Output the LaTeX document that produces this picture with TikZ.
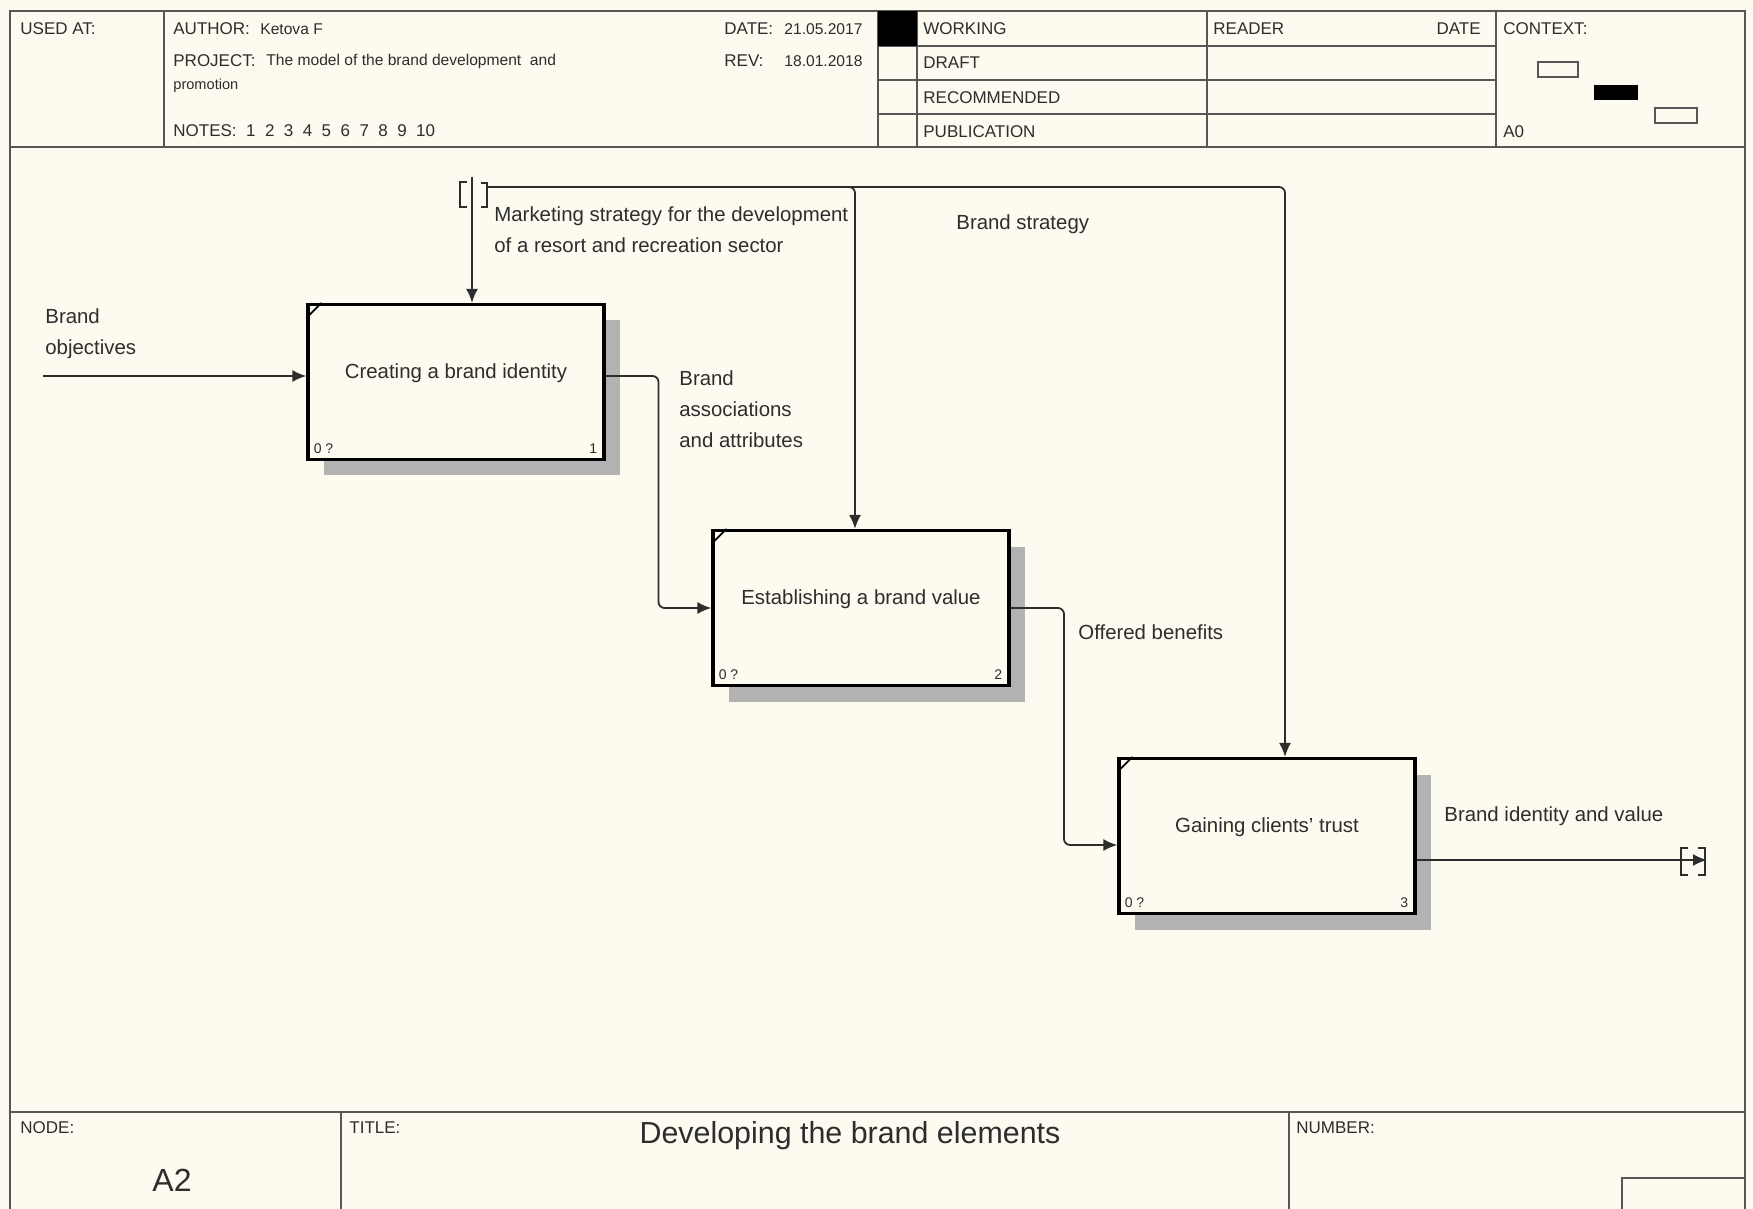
\documentclass[tikz,border=0pt]{standalone}
\usepackage{fontspec}
\setmainfont{Liberation Sans}
\usetikzlibrary{arrows.meta,calc,shadows}
\definecolor{paper}{RGB}{253,250,240}
\definecolor{ink}{RGB}{45,45,45}
\tikzset{
  frame/.style={draw=ink!80,line width=1.1pt},
  actbox/.style={draw=black,line width=1.6pt,fill=paper,minimum width=148pt,minimum height=77.5pt,inner sep=0pt,
    drop shadow={shadow xshift=8pt,shadow yshift=-8pt,fill=gray!60,opacity=1}},
  flow/.style={draw=ink,line width=0.9pt,rounded corners=3pt,-{Latex[length=7pt,width=6pt]}},
  lbl/.style={font=\fontsize{10.2}{15.5}\selectfont,text=ink,inner sep=0pt,anchor=west,align=left},
  boxtxt/.style={font=\fontsize{10.2}{12}\selectfont,text=ink,inner sep=0pt},
  hdr/.style={font=\fontsize{8.5}{10}\selectfont,text=ink,inner sep=0pt,anchor=west},
  hval/.style={font=\fontsize{7.8}{9}\selectfont,text=ink,inner sep=0pt,anchor=west},
  tiny/.style={font=\fontsize{7}{8}\selectfont,text=ink,inner sep=0pt}
}
\begin{document}
\begin{tikzpicture}[x=0.5pt,y=-0.5pt]
\useasboundingbox (0,0) rectangle (1753,1209);
\fill[paper] (0,0) rectangle (1753,1209);
\draw[frame] (10,1209) -- (10,11) -- (1745,11) -- (1745,1209);
\draw[frame] (10,147) -- (1745,147)
    (164,11) -- (164,147)
    (878,11) -- (878,147)
    (917,11) -- (917,147)
    (1207,11) -- (1207,147)
    (1496,11) -- (1496,147);
\foreach \y in {46,80,114}
    \draw[frame] (878,\y) -- (1496,\y);
\fill[black] (878,11) rectangle (917,46);
\draw[frame] (1538,62) rectangle (1578,77)
    (1655,108) rectangle (1697,123);
\fill[black] (1594,85) rectangle (1638,100);
\node[hdr] (usedat) at (20,29) {USED AT:};
\node[hdr] (author) at (173,29) {AUTHOR:};
\node[hval] (authorv) at (260,29) {Ketova F};
\node[hdr] (project) at (173,61) {PROJECT:};
\node[hval] (projectv) at (266,61) {The model of the brand development\ \ and};
\node[hval] (projectw) at (173,86) {\fontsize{7.3}{9}\selectfont promotion};
\node[hdr] (notes) at (173,131) {NOTES:~~1~~2~~3~~4~~5~~6~~7~~8~~9~~10};
\node[hdr] (date) at (724,29) {DATE:};
\node[hval] (datev) at (784,29) {21.05.2017};
\node[hdr] (rev) at (724,61) {REV:};
\node[hval] (revv) at (784,61) {18.01.2018};
\node[hdr] (working) at (923,29) {WORKING};
\node[hdr] (draft) at (923,63) {DRAFT};
\node[hdr] (recomm) at (923,98) {RECOMMENDED};
\node[hdr] (public) at (923,132) {PUBLICATION};
\node[hdr] (reader) at (1213,29) {READER};
\node[hdr,anchor=east] (rdate) at (1481,29) {DATE};
\node[hdr] (context) at (1503,29) {CONTEXT:};
\node[hdr] (ctxnode) at (1503,132) {A0};
\node[actbox] (a1) at (456,382) {};
\node[actbox] (a2) at (861,608) {};
\node[actbox] (a3) at (1267,836) {};
\node[boxtxt] (t1) at ($(a1.north)+(0,70)$) {Creating a brand identity};
\node[boxtxt] (t2) at ($(a2.north)+(0,70)$) {Establishing a brand value};
\node[boxtxt] (t3) at ($(a3.north)+(0,70)$) {Gaining clients' trust};
\foreach \b/\n in {a1/1,a2/2,a3/3} {
    \draw[line width=0.9pt] ($(\b.north west)+(0,15)$) -- ($(\b.north west)+(15,0)$);
    \node[tiny,anchor=south west] (\b-cost) at ($(\b.south west)+(7,-7)$) {0 ?};
    \node[tiny,anchor=south east] (\b-num) at ($(\b.south east)+(-8,-7)$) {\n};
}
\coordinate (src) at (43,376);
\coordinate (tun) at (472,177);
\coordinate (fork) at (487,187);
\coordinate (sink) at (1707,860);
\draw[flow] (src) -- (src -| a1.west);
\draw[flow] (tun) -- (tun |- a1.north);
\draw[flow] (fork) -| ($(a2.north)+(-6,0)$);
\draw[flow] (fork) -| ($(a3.north)+(18,0)$);
\draw[flow] ($(a1.east)+(0,-6)$) -| ($(a1.east)!.5!(a2.west)$) |- (a2.west);
\draw[flow] (a2.east) -| ($(a2.east)!.5!(a3.west)$) |- ($(a3.west)+(0,9)$);
\draw[flow] (a3.east |- sink) -- (sink);
\draw[line width=0.9pt,ink] (467,182) -- (460,182) -- (460,207) -- (467,207)
    (481,183) -- (487,183) -- (487,207) -- (481,207);
\draw[line width=0.9pt,ink] (1688,848) -- (1681,848) -- (1681,875) -- (1688,875)
    (1698,848) -- (1705,848) -- (1705,875) -- (1698,875);
\node[lbl] (lobj) at (45,334) {Brand\\objectives};
\node[lbl] (lmkt) at (494,230) {Marketing strategy for the development\\of a resort and recreation sector};
\node[lbl] (lbs) at (956,224) {Brand strategy};
\node[lbl] (lassoc) at (679,409) {Brand\\associations\\and attributes};
\node[lbl] (lben) at (1078,632) {Offered benefits};
\node[lbl] (lout) at (1444,816) {Brand identity and value};
\draw[frame] (10,1112) -- (1745,1112)
    (341,1112) -- (341,1209)
    (1289,1112) -- (1289,1209)
    (1622,1209) -- (1622,1178) -- (1745,1178);
\node[hdr] (nodelbl) at (20,1128) {NODE:};
\node[hdr] (titlelbl) at (349,1128) {TITLE:};
\node[hdr] (numlbl) at (1296,1128) {NUMBER:};
\node[font=\fontsize{16}{18}\selectfont,text=ink,inner sep=0pt] (nodeid) at (172,1180) {A2};
\node[font=\fontsize{15.2}{18}\selectfont,text=ink,inner sep=0pt] (title) at (850,1136) {Developing the brand elements};
\end{tikzpicture}
\end{document}
